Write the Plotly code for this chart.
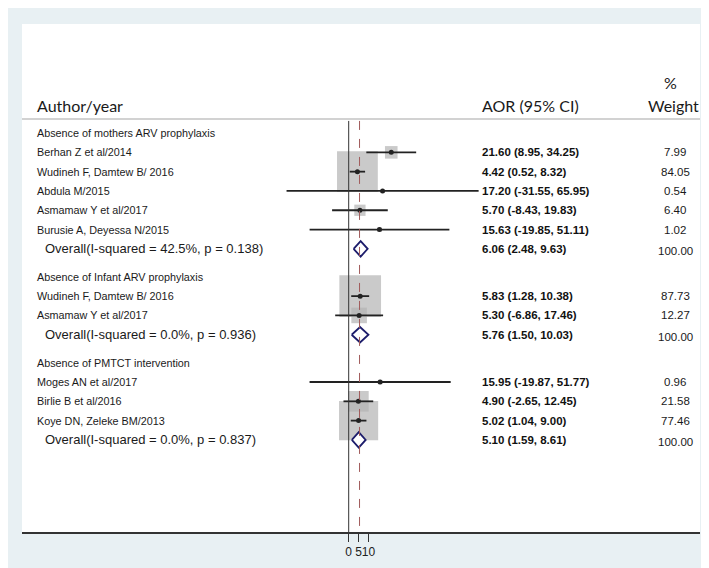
import plotly.graph_objects as go

# ---- data -----------------------------------------------------------------
groups = [
    "Absence of mothers ARV prophylaxis",
    "Absence of Infant ARV prophylaxis",
    "Absence of PMTCT intervention",
]
studies = [
    ["Berhan Z et al/2014", "Wudineh F, Damtew B/ 2016", "Abdula M/2015",
     "Asmamaw Y et al/2017", "Burusie A, Deyessa N/2015"],
    ["Wudineh F, Damtew B/ 2016", "Asmamaw Y et al/2017"],
    ["Moges AN et al/2017", "Birlie B et al/2016", "Koye DN, Zeleke BM/2013"],
]
aor = [[21.60, 4.42, 17.20, 5.70, 15.63], [5.83, 5.30], [15.95, 4.90, 5.02]]
lower = [[8.95, 0.52, -31.55, -8.43, -19.85], [1.28, -6.86], [-19.87, -2.65, 1.04]]
upper = [[34.25, 8.32, 65.95, 19.83, 51.11], [10.38, 17.46], [51.77, 12.45, 9.00]]
weight = [[7.99, 84.05, 0.54, 6.40, 1.02], [87.73, 12.27], [0.96, 21.58, 77.46]]

overall_label = ["(I-squared = 42.5%, p = 0.138)",
                 "(I-squared = 0.0%, p = 0.936)",
                 "(I-squared = 0.0%, p = 0.837)"]
overall_aor = [6.06, 5.76, 5.10]
overall_lower = [2.48, 1.50, 1.59]
overall_upper = [9.63, 10.03, 8.61]
overall_weight = [100.00, 100.00, 100.00]

pooled_line = 5.5
tick_vals = [0, 5, 10]

# ---- geometry helpers -------------------------------------------------------
W, H = 709, 568
ML, MR, MT, MB = 14, 17, 16, 44
PW = W - ML - MR
ROW = 19.3
N_ROWS = (H - MT - MB) / ROW


def px(x):
    return (x - ML) / PW


# row positions (row units from top of panel)
first_heading = 5.65
heading_rows, study_rows, overall_rows = [], [], []
r = first_heading
for g in range(len(groups)):
    heading_rows.append(r)
    rows = [r + 1 + i for i in range(len(studies[g]))]
    study_rows.append(rows)
    overall_rows.append(rows[-1] + 1)
    r = overall_rows[-1] + 1.45

fig = go.Figure()

BOX = "#b4b4b4"
INK = "#222222"
NAVY = "#1c1c6b"

all_est = [v for g in aor for v in g]
all_lo = [v for g in lower for v in g]
all_hi = [v for g in upper for v in g]
all_w = [v for g in weight for v in g]
all_rows = [v for g in study_rows for v in g]

# weight boxes
fig.add_trace(go.Scatter(
    x=all_est, y=all_rows, mode="markers",
    marker=dict(symbol="square", color=BOX, line=dict(width=0),
                size=[4.45 * w ** 0.5 for w in all_w]),
    hoverinfo="skip", showlegend=False))

# confidence intervals
ci_x, ci_y = [], []
for e, lo, hi, y in zip(all_est, all_lo, all_hi, all_rows):
    ci_x += [lo, hi, None]
    ci_y += [y, y, None]
fig.add_trace(go.Scatter(x=ci_x, y=ci_y, mode="lines",
                         line=dict(color=INK, width=1.8),
                         hoverinfo="skip", showlegend=False))

# point estimates
fig.add_trace(go.Scatter(x=all_est, y=all_rows, mode="markers",
                         marker=dict(color=INK, size=5),
                         hoverinfo="skip", showlegend=False))

# overall diamonds
half_h = 0.4
for e, lo, hi, y in zip(overall_aor, overall_lower, overall_upper, overall_rows):
    fig.add_trace(go.Scatter(
        x=[lo, e, hi, e, lo], y=[y, y - half_h, y, y + half_h, y],
        mode="lines", line=dict(color=NAVY, width=1.8),
        fill="toself", fillcolor="white",
        hoverinfo="skip", showlegend=False))

# x scale: 0 at pixel 340.7, ~2 px per unit
x0_px, scale = 340.7, 1.97
x_lo = -(x0_px - ML) / scale
x_hi = x_lo + PW / scale

header_row = (111 - MT) / ROW

shapes = [
    # header rule
    dict(type="line", xref="paper", yref="y", x0=0, x1=1,
         y0=header_row, y1=header_row, line=dict(color="#d2d2d2", width=2)),
    # null line
    dict(type="line", xref="x", yref="y", x0=0, x1=0,
         y0=header_row + 0.1, y1=N_ROWS, line=dict(color="#333333", width=1)),
    # pooled effect line
    dict(type="line", xref="x", yref="y", x0=pooled_line, x1=pooled_line,
         y0=header_row + 0.1, y1=N_ROWS,
         line=dict(color="#a05a5a", width=1, dash="dash")),
]

ann = []
SANS = "Liberation Sans, Arial, sans-serif"
TXT = dict(family=SANS, size=10.8, color="#1a1a1a")
OVR = dict(family=SANS, size=13, color="#1a1a1a")
NUM = dict(family=SANS, size=11.5, color="#111111")
WGT = dict(family=SANS, size=11.5, color="#1a1a1a")
HDR = dict(family="Lato, Calibri, sans-serif", size=16, color="#1a1a1a")

AOR_X = 472


def text(x, y, s, font=TXT, anchor="left", yshift=0):
    ann.append(dict(x=px(x), y=y, xref="paper", yref="y", text=s,
                    showarrow=False, xanchor=anchor, yanchor="middle",
                    font=font, yshift=yshift))


text(27, (97 - MT) / ROW, "Author/year", HDR)
text(AOR_X, (97 - MT) / ROW, "AOR (95% CI)", HDR)
text(665, (97 - MT) / ROW, "Weight", HDR, anchor="center")
text(662, (74 - MT) / ROW, "%", HDR, anchor="center")

for g in range(len(groups)):
    text(27, heading_rows[g], groups[g])
    for name, e, lo, hi, w, y in zip(studies[g], aor[g], lower[g], upper[g],
                                     weight[g], study_rows[g]):
        text(27, y, name)
        text(AOR_X, y, f"<b>{e:.2f} ({lo:.2f}, {hi:.2f})</b>", NUM)
        text(667, y, f"{w:.2f}", WGT, anchor="center")
    y = overall_rows[g]
    text(35, y, "Overall" + overall_label[g], OVR)
    text(AOR_X, y, f"<b>{overall_aor[g]:.2f} ({overall_lower[g]:.2f}, "
                   f"{overall_upper[g]:.2f})</b>", NUM)
    text(667, y, f"{overall_weight[g]:.2f}", WGT, anchor="center", yshift=-2)

fig.update_layout(
    width=W, height=H,
    margin=dict(l=ML, r=MR, t=MT, b=MB),
    paper_bgcolor="#e8f0f3",
    plot_bgcolor="white",
    shapes=shapes,
    annotations=ann,
    xaxis=dict(range=[x_lo, x_hi], tickvals=tick_vals, ticks="outside",
               tickangle=0, ticklen=8, tickcolor="#333333", showgrid=False,
               zeroline=False, showline=True, linecolor="#333333",
               linewidth=1.5,
               tickfont=dict(family=SANS, size=12, color="#222222")),
    yaxis=dict(range=[N_ROWS, 0], visible=False, showgrid=False,
               zeroline=False),
)

fig.write_html("out.html")
